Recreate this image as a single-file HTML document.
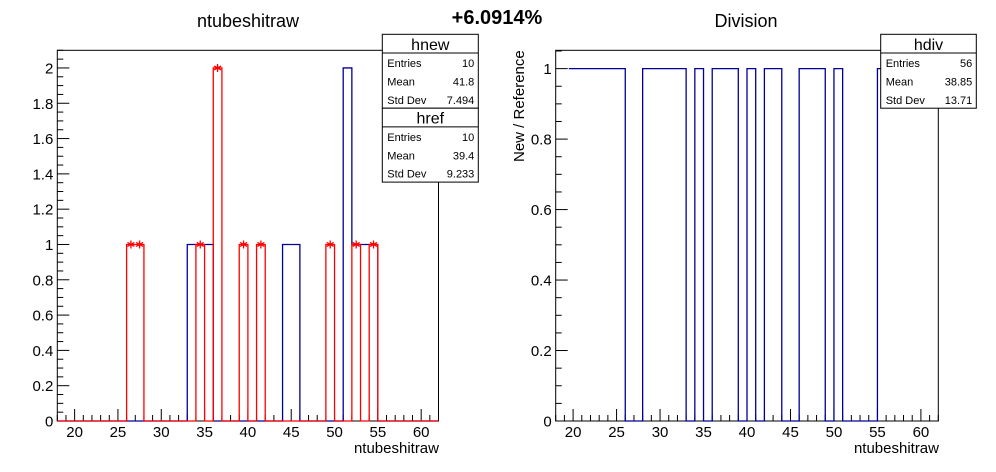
<!DOCTYPE html>
<html><head><meta charset="utf-8"><style>
body{margin:0;background:#fff;}
svg{display:block;font-family:"Liberation Sans",Arial,sans-serif;}
</style></head><body>
<svg id="c" width="996" height="472" viewBox="0 0 996 472">
<rect x="0" y="0" width="996" height="472" fill="#fff"/>
<text x="248" y="27" font-size="18" text-anchor="middle">ntubeshitraw</text>
<text x="746" y="27" font-size="18" text-anchor="middle">Division</text>
<text x="497" y="24" font-size="20" font-weight="bold" text-anchor="middle">+6.0914%</text>
<text x="439" y="453" font-size="15" text-anchor="end">ntubeshitraw</text>
<text x="939" y="453" font-size="15" text-anchor="end">ntubeshitraw</text>
<text transform="translate(524,162) rotate(-90)" font-size="15" text-anchor="start">New / Reference</text>
<g id="left"></g>
<g id="right"></g>
<g id="stats"></g>
</svg>
<script>
const xMin = 18, xMax = 62;
const xTickLabels = [20,25,30,35,40,45,50,55,60];
const leftYTicks = [0,0.2,0.4,0.6,0.8,1,1.2,1.4,1.6,1.8,2];
const leftYLabels = ["0","0.2","0.4","0.6","0.8","1","1.2","1.4","1.6","1.8","2"];
const rightYTicks = [0,0.2,0.4,0.6,0.8,1];
const rightYLabels = ["0","0.2","0.4","0.6","0.8","1"];
// hnew (blue) bins: [low edge, content], width 1
const newBins = [33,34,35,44,45,51,52,53,54];
const newVals = [1,1,1,1,1,2,1,1,1];
// href (red) bins
const refBins = [26,27,34,36,39,41,49,52,54];
const refVals = [1,1,1,2,1,1,1,1,1];
// division segments (ratio)
const divStarts = [19.5,28,34,36,40,42,46,50,55];
const divEnds =   [26,33,35,39,41,44,49,51,62];
const divVals =   [1,1,1,1,1,1,1,1,1];

const NS="http://www.w3.org/2000/svg";
function mk(parent,tag,attrs){const e=document.createElementNS(NS,tag);for(const k in attrs)e.setAttribute(k,attrs[k]);parent.appendChild(e);return e;}

function drawPanel(g,fx0,fx1,fy0,fy1,yMax,yTicks,yLabels,minorStep,name){
  const sx=v=>fx0+(v-xMin)/(xMax-xMin)*(fx1-fx0);
  const sy=v=>fy1-v/yMax*(fy1-fy0);
  const f=mk(g,'rect',{x:fx0,y:fy0,width:fx1-fx0,height:fy1-fy0,fill:'none',stroke:'#000','stroke-width':1});
  
  
  for(let v=xMin;v<=xMax;v++){
    const major=v%5===0;
    const t=mk(g,'line',{x1:sx(v),x2:sx(v),y1:fy1,y2:fy1-(major?12:6),stroke:'#000'});
    
    
  }
  xTickLabels.forEach(v=>{
    const t=mk(g,'text',{x:sx(v),y:fy1+16,'font-size':15,'text-anchor':'middle'});
    t.textContent=v;
    
    
  });
  for(let v=0;v<=yMax+1e-9;v+=minorStep){
    const major=yTicks.some(t=>Math.abs(t-v)<1e-6);
    const t=mk(g,'line',{x1:fx0,x2:fx0+(major?12:6),y1:sy(v),y2:sy(v),stroke:'#000'});
    
    
  }
  yTicks.forEach((v,i)=>{
    const t=mk(g,'text',{x:fx0-4,y:sy(v)+5.5,'font-size':15,'text-anchor':'end'});
    t.textContent=yLabels[i];
    
    
  });
  return {sx,sy};
}

function histPath(bins,vals,sx,sy){
  const content={};bins.forEach((b,i)=>content[b]=vals[i]);
  let d='M'+sx(xMin)+','+sy(0);let prev=0;
  for(let b=xMin;b<xMax;b++){const c=content[b]||0;if(c!==prev){d+=' L'+sx(b)+','+sy(prev)+' L'+sx(b)+','+sy(c);prev=c;}}
  d+=' L'+sx(xMax)+','+sy(prev);
  return d;
}

const L=document.getElementById('left');
const lp=drawPanel(L,57.3,438.5,50.3,421,2.1,leftYTicks,leftYLabels,0.05,'left');
const pn=mk(L,'path',{d:histPath(newBins,newVals,lp.sx,lp.sy),fill:'none',stroke:'#000099','stroke-width':1.3});


const pr=mk(L,'path',{d:histPath(refBins,refVals,lp.sx,lp.sy),fill:'none',stroke:'#ff0000','stroke-width':1.3});


refBins.forEach((b,i)=>{
  const cx=lp.sx(b+0.5),cy=lp.sy(refVals[i]);
  const r=4;
  const d='M'+cx+','+(cy-r)+' L'+cx+','+(cy+r)+' M'+(cx-r*0.87)+','+(cy-r*0.5)+' L'+(cx+r*0.87)+','+(cy+r*0.5)+' M'+(cx-r*0.87)+','+(cy+r*0.5)+' L'+(cx+r*0.87)+','+(cy-r*0.5);
  const m=mk(L,'path',{d:d,stroke:'#ff0000','stroke-width':1.3,fill:'none'});
  
  
});

const R=document.getElementById('right');
const rp=drawPanel(R,555.7,938.3,50.3,421,1.052,rightYTicks,rightYLabels,0.05,'right');
let d='';
divStarts.forEach((s,i)=>{
  d+=(i===0?'M'+rp.sx(s)+','+rp.sy(divVals[i]):' L'+rp.sx(s)+','+rp.sy(0)+' L'+rp.sx(s)+','+rp.sy(divVals[i]));
  d+=' L'+rp.sx(divEnds[i])+','+rp.sy(divVals[i]);
  if(divEnds[i]<xMax) d+=' L'+rp.sx(divEnds[i])+','+rp.sy(0);
});
const dp=mk(R,'path',{d:d,fill:'none',stroke:'#000099','stroke-width':1.3});



const S=document.getElementById('stats');
function statBox(x0,x1,y0,title,rows,name){
  const hh=18.7,rh=18.4;
  const h=hh+rows.length*rh;
  const b=mk(S,'rect',{x:x0,y:y0,width:x1-x0,height:h,fill:'#fff',stroke:'#000'});
  
  
  mk(S,'line',{x1:x0,x2:x1,y1:y0+hh,y2:y0+hh,stroke:'#000'});
  const t=mk(S,'text',{x:(x0+x1)/2,y:y0+15.5,'font-size':16,'text-anchor':'middle'});
  t.textContent=title;
  
  
  rows.forEach((r,i)=>{
    const yy=y0+hh+rh*i+14;
    const a=mk(S,'text',{x:x0+5,y:yy,'font-size':11});a.textContent=r[0];
    
    
    const v=mk(S,'text',{x:x1-4,y:yy,'font-size':11,'text-anchor':'end'});v.textContent=r[1];
    
    
  });
  return y0+h;
}
const yb=statBox(382.3,478.3,34.3,'hnew',[['Entries','10'],['Mean','41.8'],['Std Dev','7.494']],'hnew');
statBox(382.3,478.3,yb,'href',[['Entries','10'],['Mean','39.4'],['Std Dev','9.233']],'href');
statBox(880.7,976.3,34.3,'hdiv',[['Entries','56'],['Mean','38.85'],['Std Dev','13.71']],'hdiv');
</script>
</body></html>
